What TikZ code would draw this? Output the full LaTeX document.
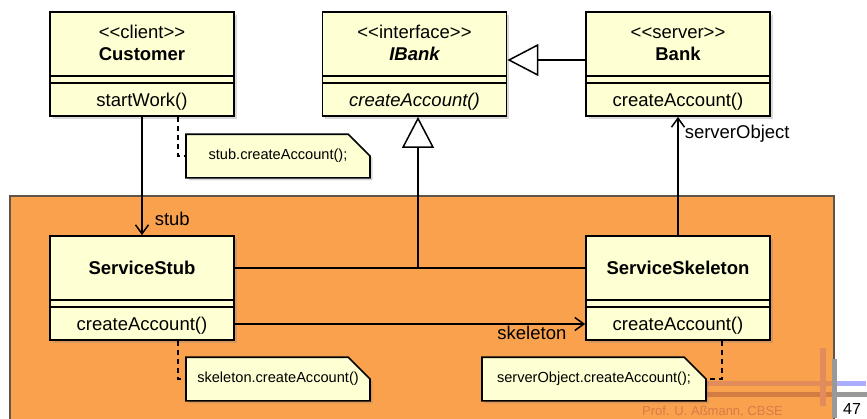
\documentclass[tikz,border=0pt]{standalone}
\usepackage{fontspec}
\setmainfont{Liberation Sans}[Ligatures=TeXOff]
\usetikzlibrary{arrows.meta,shadows,shapes.misc,calc}
\definecolor{classfill}{RGB}{255,255,212}
\definecolor{pkgorange}{RGB}{250,161,78}
\definecolor{pkgborder}{RGB}{95,85,75}
\definecolor{footbar}{RGB}{226,140,92}
\definecolor{footbarlow}{RGB}{210,126,66}
\definecolor{foottext}{RGB}{214,124,72}
\definecolor{lavender}{RGB}{172,172,255}
\begin{document}
\begin{tikzpicture}[x=1pt,y=-1pt,
	classbox/.style={draw,line width=1.8pt,fill=classfill,minimum width=184pt,minimum height=104pt,inner sep=0pt,drop shadow={shadow xshift=2.5pt,shadow yshift=-2.5pt,opacity=.3}},
	sepline/.style={line width=1.8pt},
	txt/.style={font=\fontsize{18.5}{22}\selectfont,inner sep=0pt,anchor=base},
	notebox/.style={draw,line width=1.6pt,fill=classfill,chamfered rectangle,chamfered rectangle corners=north east,chamfered rectangle xsep=23pt,chamfered rectangle ysep=15pt,minimum height=32pt,inner sep=0pt,font=\fontsize{14.6}{17}\selectfont,drop shadow={shadow xshift=2.5pt,shadow yshift=-2.5pt,opacity=.3}},
	assoc/.style={line width=1.5pt},
	nav/.style={line width=1.5pt,-{Straight Barb[length=9pt,width=13pt]}},
	inherit/.style={line width=1.5pt,-{Triangle[length=31pt,width=32pt,fill=white]}},
	noteline/.style={line width=1.6pt,dash pattern=on 5pt off 4pt}]
	\useasboundingbox (0,0) rectangle (867,418);
	\filldraw[draw=pkgborder,line width=1.2pt,fill=pkgorange](10,196) rectangle (834,440);
	\fill[footbar](700,381) rectangle (834,386);
	\fill[footbarlow](700,392) rectangle (834,397);
	\fill[footbar](820,348) rectangle (826,406);
	\fill[lavender](834,381) rectangle (866,386);
	\fill[gray!80](834,392) rectangle (867,397);
	\fill[gray!80](832,359) rectangle (837,418);
	\node[font=\fontsize{13}{15}\selectfont,text=foottext,anchor=base west,inner sep=0pt] (footer) at (642,415) {Prof. U. Aßmann, CBSE};
	\node[font=\fontsize{16}{18}\selectfont,anchor=base west,inner sep=0pt] (page) at (843,414) {47};

	\node[classbox] (cust) at (142,64) {};
	\draw[sepline](50,76)--(234,76) (50,83)--(234,83);
	\node[txt] (cust-st) at (142,38) {<<client>>};
	\node[txt,font=\fontsize{18.5}{22}\selectfont\bfseries] (cust-nm) at (142,60) {Customer};
	\node[txt] (cust-op) at (142,106) {startWork()};

	\node[classbox] (ibank) at (414.5,64) {};
	\draw[sepline](322,76)--(507,76) (322,83)--(507,83);
	\node[txt] (ibank-st) at (414.5,38) {<<interface>>};
	\node[txt,font=\fontsize{18.5}{22}\selectfont\bfseries\itshape] (ibank-nm) at (414.5,60) {IBank};
	\node[txt,font=\fontsize{18.5}{22}\selectfont\itshape] (ibank-op) at (414.5,106) {createAccount()};

	\node[classbox] (bank) at (678,64) {};
	\draw[sepline](586,76)--(770,76) (586,83)--(770,83);
	\node[txt] (bank-st) at (678,38) {<<server>>};
	\node[txt,font=\fontsize{18.5}{22}\selectfont\bfseries] (bank-nm) at (678,60) {Bank};
	\node[txt] (bank-op) at (678,106) {createAccount()};

	\node[classbox] (stub) at (142,288) {};
	\draw[sepline](50,300)--(234,300) (50,307)--(234,307);
	\node[txt,font=\fontsize{18.5}{22}\selectfont\bfseries] (stub-nm) at (142,274) {ServiceStub};
	\node[txt] (stub-op) at (142,330) {createAccount()};

	\node[classbox] (skel) at (678,288) {};
	\draw[sepline](586,300)--(770,300) (586,307)--(770,307);
	\node[txt,font=\fontsize{18.5}{22}\selectfont\bfseries] (skel-nm) at (678,274) {ServiceSkeleton};
	\node[txt] (skel-op) at (678,330) {createAccount()};

	\node[notebox,minimum width=184pt] (n-stub) at (278,156) {stub.createAccount();};
	\node[notebox,minimum width=184pt] (n-skel) at (278,379) {skeleton.createAccount()};
	\node[notebox,minimum width=224pt] (n-srv) at (594,379) {serverObject.createAccount();};

	\draw[noteline]($(cust.south)+(36,0)$)|-(n-stub.west);
	\draw[noteline]($(stub.south)+(36,0)$)|-(n-skel.west);
	\draw[noteline]($(skel.south)+(44,0)$)|-(n-srv.east);

	\draw[inherit]($(bank.west)+(0,-4)$)--($(ibank.east)+(0,-4)$);
	\coordinate (junc) at (418,268);
	\draw[assoc]($(stub.east)+(0,-20)$)--($(skel.west)+(0,-20)$);
	\draw[inherit](junc)--(junc|-ibank.south);
	\draw[nav](cust)--node[txt,pos=.92,anchor=base west,xshift=12pt]{stub}(stub);
	\draw[nav](skel)--node[txt,pos=.817,anchor=base west,xshift=6pt]{serverObject}(bank);
	\draw[nav]($(stub.east)+(0,36)$)--($(skel.west)+(0,36)$)node[txt,pos=1,anchor=base east,xshift=-18pt,yshift=-15pt]{skeleton};
\end{tikzpicture}
\end{document}
